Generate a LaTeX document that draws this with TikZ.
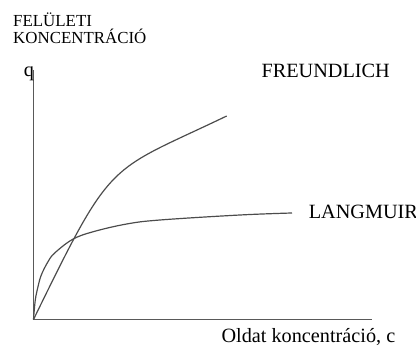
\documentclass[tikz,border=0pt]{standalone}
\usepackage{fontspec}
\setmainfont{Liberation Serif}
\usepackage{tikz}
\usetikzlibrary{positioning}
\tikzset{every picture/.style={line width=0.75pt}}
\tikzset{
  axisline/.style={draw=black!65, line width=0.8pt},
  isotherm/.style={draw=black!70, line width=0.85pt},
  bigtext/.style={inner sep=0pt, anchor=base west, text=black, font=\fontsize{14.4}{17}\selectfont},
  smalltext/.style={inner sep=0pt, anchor=base west, text=black, font=\fontsize{12}{14}\selectfont}
}

\begin{document}
\begin{tikzpicture}[x=0.025cm,y=0.025cm]
\useasboundingbox (-33.5,-27.5) rectangle (382.5,319.5);
% axes
\coordinate (O) at (0,0);
\coordinate (ytop) at (0,249.5);
\coordinate (xend) at (338.5,0);
\draw [axisline] (ytop) -- (O) -- (xend);
%
\node [smalltext] (felu) at (-20.8,292.8) {FELÜLETI};
\node [smalltext] (konc) at (-20.8,276.2) {KONCENTRÁCIÓ};
\node [bigtext] (q) at (-10.2,242.5) {q};
\node [bigtext] (freund) at (227.5,242.2) {FREUNDLICH};
\node [bigtext] (lang) at (274.8,101.2) {LANGMUIR};
\node [bigtext] (oldat) at (187.5,-23) {Oldat koncentráció, c};
% Freundlich
\draw [isotherm] (O) .. controls (80,164) and (73.2,145.9) .. (193.2,203.5);
% Langmuir
\draw [isotherm] plot [smooth, tension=0.6] coordinates {(0,0) (1.8,19.5) (4.5,32.8) (7.8,44.5) (14.5,57.8) (21.2,66.5) (39.2,80.2) (59.8,87.8) (93.2,95.5) (126.5,99.5) (206.5,104.5) (258.5,106.5)};
\end{tikzpicture}
\end{document}
